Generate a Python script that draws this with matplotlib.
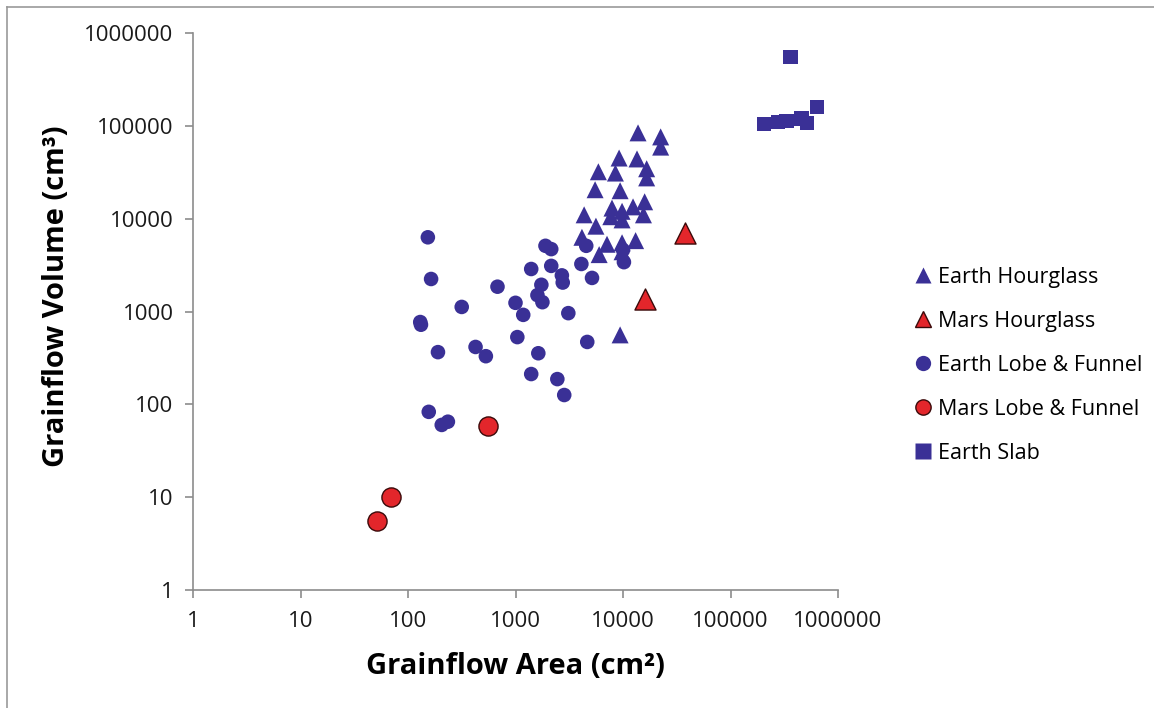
import matplotlib
matplotlib.use("Agg")
import matplotlib.pyplot as plt
from matplotlib.lines import Line2D

plt.rcParams["font.family"] = ["Open Sans", "DejaVu Sans"]

blue = "#3a3096"
red = "#e3262b"

# Earth Hourglass (triangles)
earth_hg_area = [13800, 22400, 22400, 9200, 13500, 16600, 5900, 8500, 16600, 5500,
                 9400, 4350, 7900, 9800, 12400, 15900, 15500, 7700, 9800, 5600,
                 4150, 7100, 9800, 13100, 6000, 9800, 9400]
earth_hg_vol = [84000, 76000, 59000, 45000, 44000, 34500, 32000, 31000, 27500, 20500,
                20000, 11000, 13000, 12000, 13400, 15200, 11000, 10500, 9700, 8300,
                6300, 5300, 5500, 5800, 4100, 4400, 560]

# Mars Hourglass
mars_hg_area = [37500, 16000]
mars_hg_vol = [7000, 1370]

# Earth Lobe & Funnel (circles)
earth_lf_area = [153, 164, 1900, 2150, 4550, 4100, 10000, 10200, 1400, 2150,
                 2700, 2750, 5150, 680, 1740, 1600, 1780, 1000, 316, 1180,
                 3100, 130, 132, 1040, 4650, 190, 425, 530, 1630, 1400,
                 2450, 2840, 156, 206, 235]
earth_lf_vol = [6300, 2240, 5100, 4700, 5100, 3250, 4600, 3400, 2870, 3100,
                2450, 2050, 2300, 1850, 1940, 1500, 1260, 1240, 1120, 920,
                960, 770, 720, 530, 470, 365, 415, 330, 355, 212,
                187, 126, 83, 60, 65]

# Mars Lobe & Funnel
mars_lf_area = [560, 52, 70]
mars_lf_vol = [58, 5.5, 10]

# Earth Slab (squares)
slab_area = [360000, 204000, 277000, 330000, 455000, 515000, 640000]
slab_vol = [550000, 105000, 110000, 113000, 120000, 107000, 160000]

ticks = [1, 10, 100, 1000, 10000, 100000, 1000000]
tick_labels = ["1", "10", "100", "1000", "10000", "100000", "1000000"]

fig = plt.figure(figsize=(11.54, 7.08), dpi=100)
ax = fig.add_axes([193 / 1154, 1 - 590 / 708, (838 - 193) / 1154, (590 - 33) / 708])

ax.scatter(earth_hg_area, earth_hg_vol, marker="^", s=150, color=blue, edgecolors="none", zorder=3)
ax.scatter(earth_lf_area, earth_lf_vol, marker="o", s=110, color=blue, edgecolors="none", zorder=3)
ax.scatter(slab_area, slab_vol, marker="s", s=110, color=blue, edgecolors="none", zorder=3)
ax.scatter(mars_hg_area, mars_hg_vol, marker="^", s=230, color=red, edgecolors="#3a0a0a",
           linewidths=1.0, zorder=4)
ax.scatter(mars_lf_area, mars_lf_vol, marker="o", s=190, color=red, edgecolors="#3a0a0a",
           linewidths=1.0, zorder=4)

ax.set_xscale("log")
ax.set_yscale("log")
ax.set_xlim(1, 1000000)
ax.set_ylim(1, 1000000)
ax.set_xticks(ticks)
ax.set_xticklabels(tick_labels)
ax.set_yticks(ticks)
ax.set_yticklabels(tick_labels)
ax.minorticks_off()

for side in ["top", "right"]:
    ax.spines[side].set_visible(False)
for side in ["left", "bottom"]:
    ax.spines[side].set_color("#8c8c8c")
    ax.spines[side].set_linewidth(1.2)
ax.tick_params(axis="both", colors="#8c8c8c", length=6, width=1.2, labelsize=16,
               labelcolor="#1a1a1a")
ax.tick_params(axis="x", pad=9)
ax.tick_params(axis="y", pad=8)

fig.text(515 / 1154, 1 - 666 / 708, "Grainflow Area (cm²)", ha="center", va="center",
         fontsize=21, fontweight="bold")
fig.text(57 / 1154, 1 - 296 / 708, "Grainflow Volume (cm³)", ha="center", va="center",
         fontsize=21, fontweight="bold", rotation=90)

handles = [
    Line2D([], [], linestyle="none", marker="^", markersize=11, color=blue, markeredgecolor="none"),
    Line2D([], [], linestyle="none", marker="^", markersize=11, color=red, markeredgecolor="#3a0a0a"),
    Line2D([], [], linestyle="none", marker="o", markersize=11, color=blue, markeredgecolor="none"),
    Line2D([], [], linestyle="none", marker="o", markersize=11, color=red, markeredgecolor="#3a0a0a"),
    Line2D([], [], linestyle="none", marker="s", markersize=11, color=blue, markeredgecolor="none"),
]
labels = ["Earth Hourglass", "Mars Hourglass", "Earth Lobe & Funnel", "Mars Lobe & Funnel", "Earth Slab"]
fig.legend(handles, labels, loc="upper left", bbox_to_anchor=(906 / 1154, 1 - 258 / 708),
           frameon=False, fontsize=15.5, handlelength=0.8, handletextpad=0.3,
           labelspacing=1.07, borderaxespad=0)

# thin outer frame, as in the source image
fig.add_artist(Line2D([7 / 1154, 1], [1 - 7 / 708, 1 - 7 / 708], color="#999999", linewidth=1.2))
fig.add_artist(Line2D([7 / 1154, 7 / 1154], [0, 1 - 7 / 708], color="#999999", linewidth=1.2))

fig.savefig("out.png", dpi=100)
